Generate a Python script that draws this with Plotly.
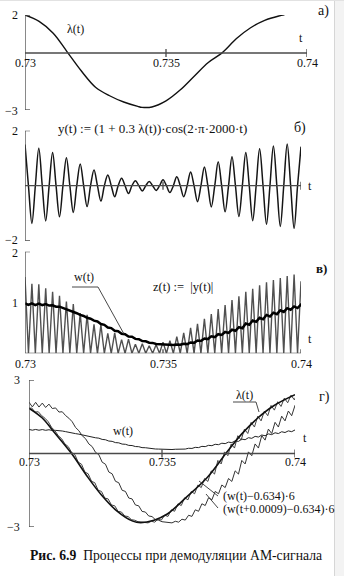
import numpy as np
import plotly.graph_objects as go

W, H = 344, 576

# ---------------- data ----------------
# а) modulating message λ(t)
lam_t_a = [0.7300, 0.7305, 0.7310, 0.7315, 0.7320, 0.7325, 0.7330, 0.7335, 0.7340, 0.73415,
           0.7345, 0.7350, 0.7355, 0.7360, 0.7365, 0.7370, 0.7375, 0.7380, 0.7385, 0.7390, 0.7392]
lam_a = [2.00, 1.66, 1.04, 0.05, -0.95, -1.80, -2.25, -2.58, -2.81, -2.86,
         -2.84, -2.52, -1.95, -1.22, -0.50, 0.02, 0.76, 1.33, 1.72, 1.95, 2.01]

# б) AM signal: crest and trough values of each carrier half-period (2000 Hz)
f_carrier = 2000.0
y_crest = [1.50, 1.36, 1.21, 1.02, 0.79, 0.57, 0.39, 0.27, 0.18, 0.15, 0.22,
           0.33, 0.50, 0.68, 0.87, 1.05, 1.21, 1.34, 1.44, 1.52, 1.42]
y_trough = [-1.37, -1.28, -1.13, -0.97, -0.76, -0.56, -0.40, -0.28, -0.19, -0.17,
            -0.25, -0.40, -0.58, -0.77, -0.95, -1.12, -1.27, -1.40, -1.48, -1.55]

# в) detector output w(t): mean level and ripple half-amplitude per carrier half-period
w_mean = [0.967, 0.966, 0.962, 0.955, 0.930, 0.905, 0.862, 0.800, 0.745, 0.690,
          0.634, 0.568, 0.502, 0.440, 0.380, 0.328, 0.281, 0.238, 0.207, 0.182,
          0.168, 0.164, 0.170, 0.184, 0.210, 0.246, 0.286, 0.326, 0.368, 0.411,
          0.454, 0.505, 0.575, 0.632, 0.685, 0.740, 0.785, 0.830, 0.872, 0.907,
          0.945, 0.970, 0.995, 1.015, 1.034]
w_ripple = [0.016, 0.016, 0.015, 0.015, 0.014, 0.013, 0.012, 0.011, 0.010, 0.009,
            0.008, 0.007, 0.006, 0.005, 0.004, 0.003, 0.003, 0.002, 0.002, 0.002,
            0.002, 0.002, 0.003, 0.003, 0.004, 0.005, 0.006, 0.007, 0.008, 0.009,
            0.010, 0.011, 0.012, 0.013, 0.014, 0.015, 0.015, 0.016, 0.016, 0.016,
            0.016, 0.016, 0.016, 0.016, 0.016]
w_offset, w_gain, w_delay = 0.634, 6.0, 0.0009

# г) message λ(t) as redrawn on the comparison plot
lam_t_g = [0.7300, 0.7305, 0.7309, 0.7316, 0.7322, 0.7327, 0.7333, 0.7339, 0.7342,
           0.7347, 0.7352, 0.7359, 0.7367, 0.7374, 0.7380, 0.7386, 0.7392, 0.7400]
lam_g = [1.85, 1.45, 0.93, 0.00, -0.95, -1.66, -2.34, -2.76, -2.82,
         -2.72, -2.47, -1.80, -0.98, 0.00, 0.80, 1.45, 1.95, 2.40]

t_ticks = [0.73, 0.735, 0.74]

# ---------------- derived series ----------------
half = 0.5 / f_carrier
n_ext = len(y_crest) + len(y_trough)
y_ext = np.empty(n_ext)
y_ext[0::2] = y_crest
y_ext[1::2] = y_trough

# crest/trough points with axis crossings between them
t_y = 0.73 + 0.5 * half * np.arange(2 * n_ext - 1)
y_y = np.zeros(2 * n_ext - 1)
y_y[0::2] = y_ext
z_y = np.abs(y_y)

wm = np.array(w_mean)
wr = np.array(w_ripple)
t_w = np.empty(2 * len(wm) - 1)
w_v = np.empty(2 * len(wm) - 1)
t_w[0::2] = 0.73 + half * np.arange(len(wm))
t_w[1::2] = t_w[0:-1:2] + 0.5 * half
w_v[0::2] = wm + wr
w_v[1::2] = wm[:-1] - wr[:-1]
w_scaled = (w_v - w_offset) * w_gain

# ---------------- figure ----------------
fig = go.Figure()

def px(x):
    return x / W

def py(y):
    return 1 - y / H

# panel geometry in pixels: (x_left, x_right), (y_top, y_bottom) and value range
panels = {
    "1": dict(x=(25, 307), y=(15, 110), yr=(-3, 2)),
    "2": dict(x=(25, 301), y=(130.7, 240.7), yr=(-2, 2)),
    "3": dict(x=(25, 301), y=(251.7, 353.3), yr=(0, 2)),
    "4": dict(x=(29, 295), y=(380, 527), yr=(-3, 3)),
}

layout_axes = {}
for k, p in panels.items():
    xn = "xaxis" if k == "1" else f"xaxis{k}"
    yn = "yaxis" if k == "1" else f"yaxis{k}"
    layout_axes[xn] = dict(domain=[px(p["x"][0]), px(p["x"][1])], range=[0.73, 0.74],
                           visible=False, anchor="y" if k == "1" else f"y{k}", fixedrange=True)
    layout_axes[yn] = dict(domain=[py(p["y"][1]), py(p["y"][0])], range=list(p["yr"]),
                           visible=False, anchor="x" if k == "1" else f"x{k}", fixedrange=True)

def refs(k):
    return ("x", "y") if k == "1" else (f"x{k}", f"y{k}")

INK = "#111111"
AX = "#4a4a4a"

# а)
fig.add_trace(go.Scatter(x=lam_t_a, y=lam_a, mode="lines", line=dict(color=INK, width=1.4, shape="spline"),
                         xaxis="x", yaxis="y", hoverinfo="skip"))
# б)
fig.add_trace(go.Scatter(x=t_y, y=y_y, mode="lines", line=dict(color="#151515", width=1.5, shape="spline", smoothing=1.0),
                         xaxis="x2", yaxis="y2", hoverinfo="skip"))
# в)
fig.add_trace(go.Scatter(x=t_y, y=z_y, mode="lines", line=dict(color="#505050", width=1.4),
                         xaxis="x3", yaxis="y3", hoverinfo="skip"))
fig.add_trace(go.Scatter(x=t_w, y=w_v, mode="lines", line=dict(color="#000000", width=2.5),
                         xaxis="x3", yaxis="y3", hoverinfo="skip"))
# г)
fig.add_trace(go.Scatter(x=t_w, y=w_v, mode="lines", line=dict(color="#222222", width=1.0),
                         xaxis="x4", yaxis="y4", hoverinfo="skip"))
fig.add_trace(go.Scatter(x=t_w, y=w_scaled, mode="lines", line=dict(color="#333333", width=1.0),
                         xaxis="x4", yaxis="y4", hoverinfo="skip"))
fig.add_trace(go.Scatter(x=t_w - w_delay, y=w_scaled, mode="lines", line=dict(color="#444444", width=1.0),
                         xaxis="x4", yaxis="y4", hoverinfo="skip"))
fig.add_trace(go.Scatter(x=lam_t_g, y=lam_g, mode="lines", line=dict(color=INK, width=1.6, shape="spline"),
                         xaxis="x4", yaxis="y4", hoverinfo="skip"))

shapes = []
annotations = []
FONT = "Liberation Serif, Times New Roman, serif"

def txt(s, x, y, size=12, xanchor="center", xref="paper", bold=False, color="#111111"):
    annotations.append(dict(text=(f"<b>{s}</b>" if bold else s), x=x if xref != "paper" else px(x), y=py(y),
                            xref=xref, yref="paper", showarrow=False, xanchor=xanchor, yanchor="middle",
                            font=dict(family=FONT, size=size, color=color)))

# thin page frame at the top and right edges
shapes.append(dict(type="rect", xref="paper", yref="paper", x0=px(334), x1=1, y0=0, y1=1,
                   fillcolor="#f3f3f3", line=dict(width=0), layer="below"))
shapes.append(dict(type="line", xref="paper", yref="paper", x0=px(334.5), x1=px(334.5), y0=0, y1=1,
                   line=dict(color="#d6d6d6", width=1)))
shapes.append(dict(type="line", xref="paper", yref="paper", x0=0, x1=1, y0=py(0.5), y1=py(0.5),
                   line=dict(color="#e2e2e2", width=1)))

# Mathcad-style crossed axes: value axis at t = 0.73, t axis at value 0
for k, p in panels.items():
    xr, yr = refs(k)
    y0, y1 = p["yr"]
    shapes.append(dict(type="line", xref=xr, yref=yr, x0=0.73, x1=0.73, y0=y0, y1=y1,
                       line=dict(color=AX, width=1.3)))
    shapes.append(dict(type="line", xref=xr, yref=yr, x0=0.73, x1=0.74, y0=0, y1=0,
                       line=dict(color=AX, width=1.3)))
    for yv in (y0, y1):
        if yv == 0:
            continue
        shapes.append(dict(type="line", xref=xr, yref=yr, xsizemode="pixel", xanchor=0.73,
                           x0=-4, x1=5, y0=yv, y1=yv, line=dict(color=AX, width=1.3)))
    for tv in t_ticks[1:]:
        shapes.append(dict(type="line", xref=xr, yref=yr, ysizemode="pixel", yanchor=0,
                           x0=tv, x1=tv, y0=-4 if y0 < 0 else 0, y1=4, line=dict(color=AX, width=1.3)))

# value-axis end labels
txt("2", 20, 15, xanchor="right")
txt("−3", 20, 111, xanchor="right")
txt("2", 20, 131, xanchor="right")
txt("−2", 20, 240, xanchor="right")
txt("2", 20, 253, xanchor="right")
txt("1", 20, 303, xanchor="right")
txt("3", 22, 380, xanchor="right")
txt("−3", 22, 527, xanchor="right")

# t-axis tick labels
tick_rows = {"1": 63, "3": 364, "4": 462}
for k, yrow in tick_rows.items():
    xr, _ = refs(k)
    for tv in t_ticks:
        txt(f"{tv:g}", tv, yrow, xref=xr)

# variable labels and titles
txt("λ(t)", 75, 29)
txt("t", 301, 38)
txt("а)", 323, 11, size=14)

txt("y(t)\u00a0:=\u00a0(1 + 0.3 λ(t))·cos(2·π·2000·t)", 152, 128, size=13)
txt("б)", 300, 128, size=14)
txt("t", 310, 186)

txt("w(t)", 84, 277)
txt("z(t)\u00a0:=\u00a0\u00a0|y(t)|", 183, 287, size=12.5)
txt("в)", 321, 268, size=13, bold=True)
txt("t", 310, 339)

txt("λ(t)", 244, 395)
txt("г)", 324, 397, size=14)
txt("w(t)", 123, 431)
txt("t", 305, 438)
txt("(w(t)−0.634)·6", 221, 496, xanchor="left")
txt("(w(t+0.0009)−0.634)·6", 221, 509, xanchor="left")

# leader lines for labels (pixel positions)
def seg(x0, y0, x1, y1, color="#333333", width=0.9):
    shapes.append(dict(type="line", xref="paper", yref="paper", x0=px(x0), y0=py(y0), x1=px(x1), y1=py(y1),
                       line=dict(color=color, width=width)))

seg(72, 287, 98, 287)
seg(98, 287, 124, 334)
seg(233, 402, 256, 402)
seg(256, 402, 259, 412)
seg(218, 496, 199, 481)
seg(218, 508, 206, 494)

txt("<b>Рис. 6.9</b>\u00a0\u00a0Процессы при демодуляции АМ-сигнала", 28, 555, size=13.7, xanchor="left")

fig.update_layout(width=W, height=H, margin=dict(l=0, r=0, t=0, b=0), showlegend=False,
                  paper_bgcolor="white", plot_bgcolor="rgba(0,0,0,0)",
                  font=dict(family=FONT),
                  shapes=shapes, annotations=annotations, **layout_axes)

fig.write_html("out.html")
